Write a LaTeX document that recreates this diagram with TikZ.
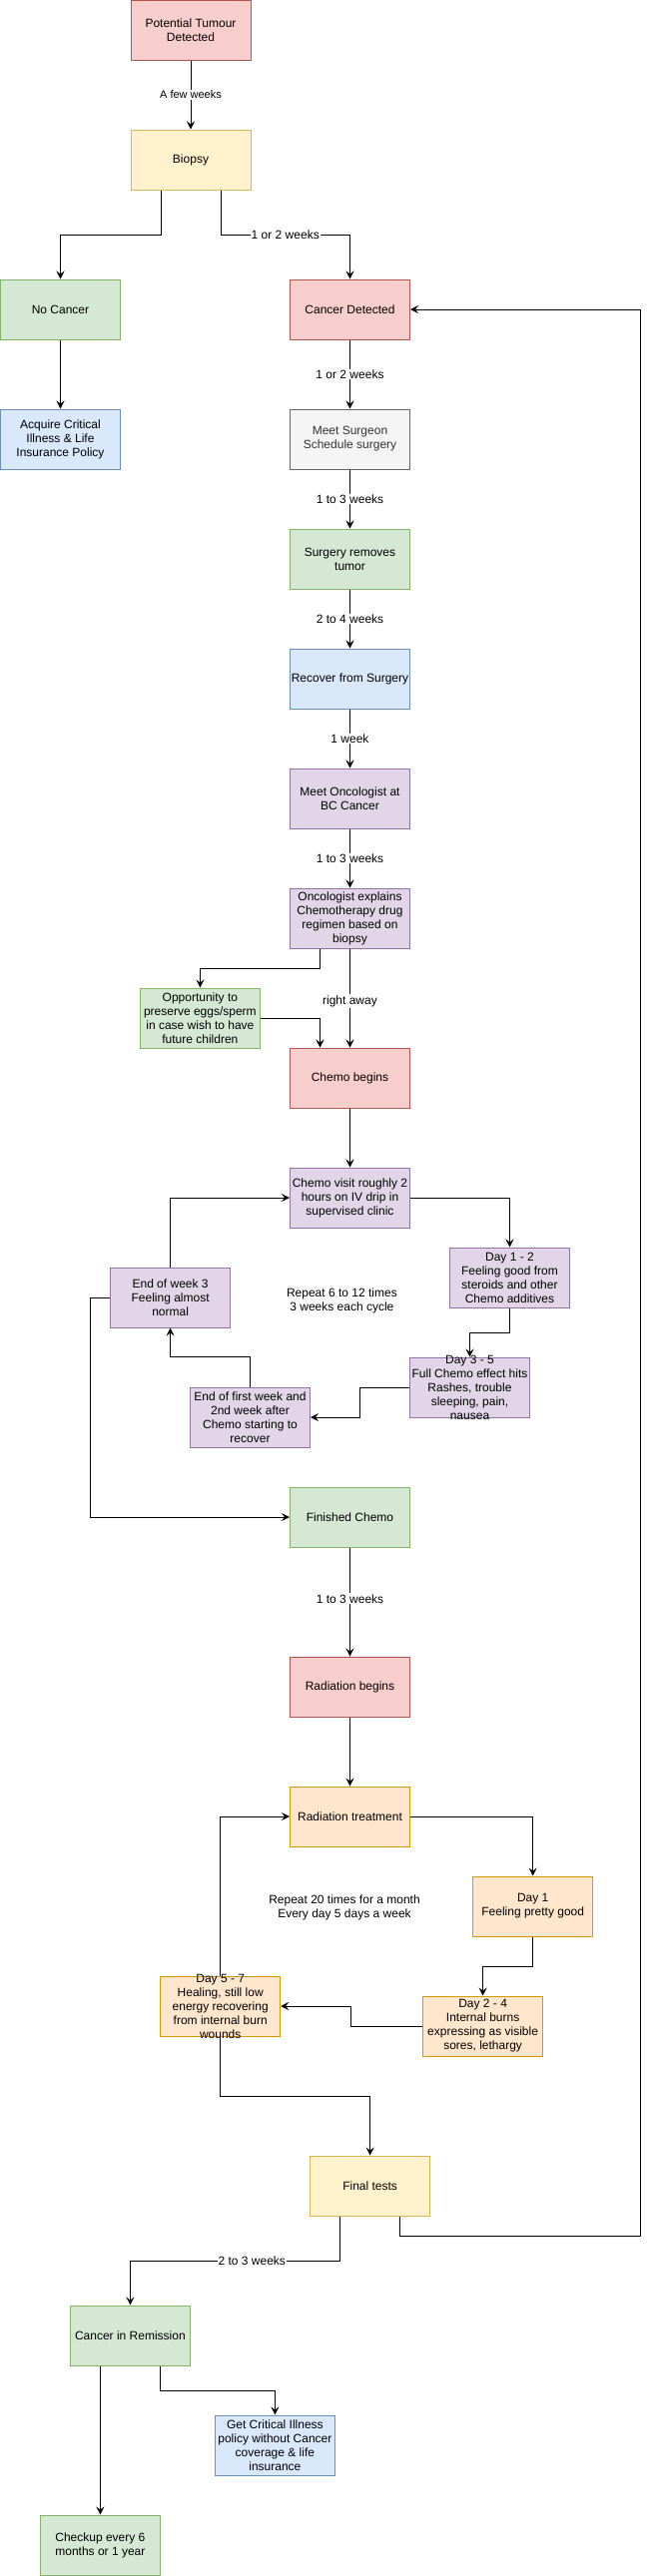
\documentclass[tikz,border=0pt]{standalone}
\usepackage{fontspec}
\setmainfont{Liberation Sans}
\usepackage{tikz}
\usetikzlibrary{arrows.meta}
\definecolor{redfill}{HTML}{F8CECC}\definecolor{redline}{HTML}{B85450}
\definecolor{yelfill}{HTML}{FFF2CC}\definecolor{yelline}{HTML}{D6B656}
\definecolor{grnfill}{HTML}{D5E8D4}\definecolor{grnline}{HTML}{82B366}
\definecolor{blufill}{HTML}{DAE8FC}\definecolor{bluline}{HTML}{6C8EBF}
\definecolor{gryfill}{HTML}{F5F5F5}\definecolor{gryline}{HTML}{666666}
\definecolor{grytext}{HTML}{333333}
\definecolor{purfill}{HTML}{E1D5E7}\definecolor{purline}{HTML}{9673A6}
\definecolor{orafill}{HTML}{FFE6CC}\definecolor{oraline}{HTML}{D79B00}

\begin{document}
\begin{tikzpicture}[x=1pt,y=-1pt,
  box/.style={draw,line width=1pt,minimum width=120pt,minimum height=60pt,
    inner sep=1pt,align=center,font=\fontsize{12}{14}\selectfont},
  redbox/.style={box,fill=redfill,draw=redline},
  yelbox/.style={box,fill=yelfill,draw=yelline},
  grnbox/.style={box,fill=grnfill,draw=grnline},
  blubox/.style={box,fill=blufill,draw=bluline},
  grybox/.style={box,fill=gryfill,draw=gryline,text=grytext},
  purbox/.style={box,fill=purfill,draw=purline},
  orabox/.style={box,fill=orafill,draw=oraline},
  overflow/.style={inner ysep=-4pt},
  note/.style={align=center,font=\fontsize{12}{14}\selectfont},
  lbl/.style={fill=white,inner sep=1pt,font=\fontsize{12}{14}\selectfont},
  flow/.style={line width=1pt,-{Stealth[length=8pt,width=8pt,inset=3pt]}},
]
\useasboundingbox (0,0) rectangle (649,2581);

% diagnosis
\node[redbox] (tumour) at (191,30) {Potential Tumour\\Detected};
\node[yelbox] (biopsy) at (191,160) {Biopsy};
\node[grnbox] (nocancer) at (60.5,310) {No Cancer};
\node[blubox] (acquire) at (60.5,440) {Acquire Critical\\Illness \& Life\\Insurance Policy};
\node[redbox] (detected) at (350.5,310) {Cancer Detected};
\node[grybox] (surgeon) at (350.5,440) {Meet Surgeon\\Schedule surgery};
\node[grnbox] (surgery) at (350.5,560) {Surgery removes\\tumor};
\node[blubox] (recover) at (350.5,680) {Recover from Surgery};
\node[purbox] (oncologist) at (350.5,800) {Meet Oncologist at\\BC Cancer};
\node[purbox] (regimen) at (350.5,920) {Oncologist explains\\Chemotherapy drug\\regimen based on\\biopsy};
\node[grnbox] (eggs) at (200.4,1020) {Opportunity to\\preserve eggs/sperm\\in case wish to have\\future children};

% chemo cycle
\node[redbox] (chemo) at (350.5,1080) {Chemo begins};
\node[purbox] (visit) at (350.5,1200) {Chemo visit roughly 2\\hours on IV drip in\\supervised clinic};
\node[purbox] (cday1) at (510.5,1280) {Day 1 - 2\\Feeling good from\\steroids and other\\Chemo additives};
\node[purbox,overflow] (cday3) at (470.5,1390) {Day 3 - 5\\Full Chemo effect hits\\Rashes, trouble\\sleeping, pain,\\nausea};
\node[purbox] (cweek1) at (250.5,1420) {End of first week and\\2nd week after\\Chemo starting to\\recover};
\node[purbox] (cweek3) at (170.6,1300) {End of week 3\\Feeling almost\\normal};
\node[note] (chemonote) at (342.4,1303) {Repeat 6 to 12 times\\3 weeks each cycle};
\node[grnbox] (finished) at (350.5,1520) {Finished Chemo};

% radiation cycle
\node[redbox] (radiation) at (350.5,1690) {Radiation begins};
\node[orabox] (treatment) at (350.5,1820) {Radiation treatment};
\node[orabox] (rday1) at (533.7,1910) {Day 1\\Feeling pretty good};
\node[orabox] (rday2) at (483.6,2030) {Day 2 - 4\\Internal burns\\expressing as visible\\sores, lethargy};
\node[orabox,overflow] (rday5) at (220.7,2010) {Day 5 - 7\\Healing, still low\\energy recovering\\from internal burn\\wounds};
\node[note] (radnote) at (345,1911) {Repeat 20 times for a month\\Every day 5 days a week};

% after treatment
\node[yelbox] (final) at (370.6,2190) {Final tests};
\node[grnbox] (remission) at (130.4,2340) {Cancer in Remission};
\node[blubox] (critical) at (275.4,2450) {Get Critical Illness\\policy without Cancer\\coverage \& life\\insurance};
\node[grnbox] (checkup) at (100.4,2550) {Checkup every 6\\months or 1 year};
\coordinate (back) at (641,2240);

\draw[flow] (tumour) -- node[lbl,font=\fontsize{11}{13}\selectfont]{A few weeks} (biopsy);
\draw[flow] ([xshift=-30pt]biopsy.south) -- ++(0,45) -| (nocancer.north);
\draw[flow] ([xshift=30pt]biopsy.south) -- ++(0,45) -| node[lbl,pos=.25]{1 or 2 weeks} (detected.north);
\draw[flow] (nocancer) -- (acquire);
\draw[flow] (detected) -- node[lbl]{1 or 2 weeks} (surgeon);
\draw[flow] (surgeon) -- node[lbl]{1 to 3 weeks} (surgery);
\draw[flow] (surgery) -- node[lbl]{2 to 4 weeks} (recover);
\draw[flow] (recover) -- node[lbl]{1 week} (oncologist);
\draw[flow] (oncologist) -- node[lbl]{1 to 3 weeks} (regimen);
\draw[flow] ([xshift=-30pt]regimen.south) -- ++(0,20) -| (eggs.north);
\draw[flow] (eggs.east) -| ([xshift=-30pt]chemo.north);
\draw[flow] (regimen) -- node[lbl,pos=.53]{right away} (chemo);
\draw[flow] (chemo) -- (visit);
\draw[flow] (visit.east) -| (cday1.north);
\draw[flow] (cday1.south) -- ++(0,25) -| (cday3.north);
\draw[flow] (cday3.west) -- ++(-50,0) |- (cweek1.east);
\draw[flow] (cweek1.north) -- ++(0,-30) -| (cweek3.south);
\draw[flow] (cweek3.north) |- (visit.west);
\draw[flow] (cweek3.west) -- ++(-20,0) |- (finished.west);
\draw[flow] (finished) -- node[lbl,pos=.47]{1 to 3 weeks} (radiation);
\draw[flow] (radiation) -- (treatment);
\draw[flow] (treatment.east) -| (rday1.north);
\draw[flow] (rday1.south) -- ++(0,30) -| (rday2.north);
\draw[flow] (rday2.west) -- ++(-71.6,0) |- (rday5.east);
\draw[flow] (rday5.north) |- (treatment.west);
\draw[flow] (rday5.south) -- ++(0,60) -| (final.north);
\draw[flow] ([xshift=30pt]final.south) |- (back) |- (detected.east);
\draw[flow] ([xshift=-30pt]final.south) -- ++(0,45) -| node[lbl,pos=.21]{2 to 3 weeks} (remission.north);
\draw[flow] ([xshift=30pt]remission.south) -- ++(0,25) -| (critical.north);
\draw[flow] ([xshift=-30pt]remission.south) -- (checkup.north);
\end{tikzpicture}
\end{document}
